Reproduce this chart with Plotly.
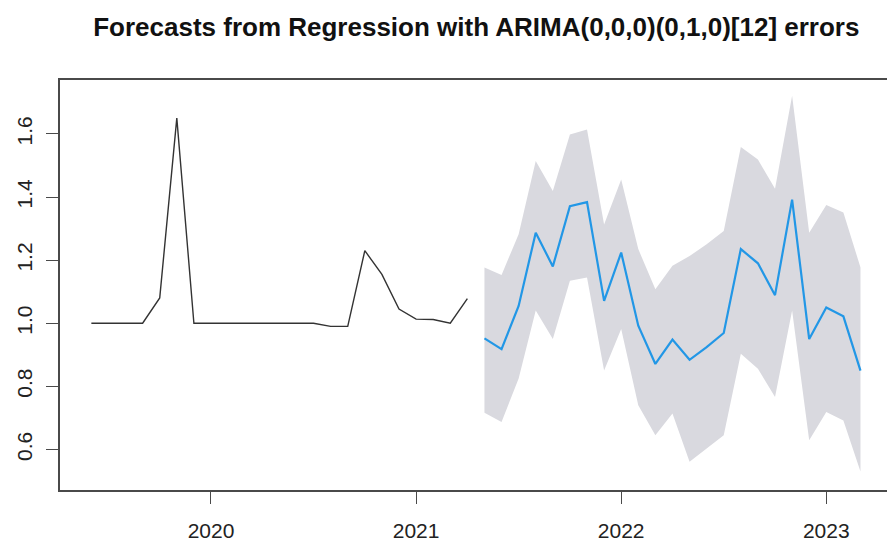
import numpy as np
import plotly.graph_objects as go

# Observed monthly series, June 2019 .. April 2021
obs_start = (2019, 6)
observed = [1.00, 1.00, 1.00, 1.00, 1.08, 1.65, 1.00,
            1.00, 1.00, 1.00, 1.00, 1.00, 1.00, 1.00, 0.99, 0.99, 1.23, 1.155, 1.045,
            1.013, 1.012, 1.00, 1.078]

# Forecast, May 2021 .. March 2023, with 95% interval
fc_start = (2021, 5)
fc_mean = [0.952, 0.918, 1.055, 1.287, 1.180, 1.371, 1.384, 1.071,
           1.224, 0.992, 0.871, 0.948, 0.884, 0.924, 0.969, 1.235, 1.190, 1.089, 1.392, 0.950,
           1.050, 1.022, 0.850]
fc_upper = [1.177, 1.153, 1.282, 1.514, 1.419, 1.598, 1.614, 1.313,
            1.456, 1.235, 1.108, 1.182, 1.213, 1.250, 1.292, 1.559, 1.519, 1.426, 1.721, 1.287,
            1.375, 1.351, 1.177]
fc_lower = [0.716, 0.687, 0.825, 1.040, 0.950, 1.135, 1.145, 0.850,
            0.982, 0.740, 0.645, 0.714, 0.561, 0.603, 0.645, 0.903, 0.856, 0.766, 1.040, 0.629,
            0.719, 0.692, 0.530]

x_ticks = [2020, 2021, 2022, 2023]
y_ticks = [0.6, 0.8, 1.0, 1.2, 1.4, 1.6]
title = "Forecasts from Regression with ARIMA(0,0,0)(0,1,0)[12] errors"


def ts_time(start, n):
    year, month = start
    return year + (month - 1) / 12 + np.arange(n) / 12


t_obs = ts_time(obs_start, len(observed))
t_fc = ts_time(fc_start, len(fc_mean))

FONT = "Liberation Sans, Arial, Helvetica, sans-serif"
AXIS_COL = "#4a4a4a"

fig = go.Figure()

# prediction interval band
fig.add_trace(go.Scatter(
    x=np.concatenate([t_fc, t_fc[::-1]]),
    y=np.concatenate([fc_upper, fc_lower[::-1]]),
    fill="toself", fillcolor="#D9D9DF", line=dict(width=0),
    mode="lines", hoverinfo="skip", showlegend=False))

fig.add_trace(go.Scatter(
    x=t_obs, y=observed, mode="lines",
    line=dict(color="#333333", width=1.4), showlegend=False))

fig.add_trace(go.Scatter(
    x=t_fc, y=fc_mean, mode="lines",
    line=dict(color="#2297E6", width=2.2), showlegend=False))

fig.update_layout(
    width=887, height=542,
    margin=dict(l=60, r=0, t=80, b=50),
    plot_bgcolor="white", paper_bgcolor="white",
    title=dict(text="<b>" + title + "</b>", x=0.537, xanchor="center",
               y=0.95, yanchor="middle",
               font=dict(family=FONT, size=26, color="#111111")),
    font=dict(family=FONT, size=21, color="#222222"),
)

fig.update_xaxes(
    range=[2019.2638, 2023.296], tickvals=x_ticks,
    ticktext=[str(v) for v in x_ticks],
    showgrid=False, zeroline=False,
    showline=True, mirror=True, linecolor=AXIS_COL, linewidth=1.6,
    ticks="outside", ticklen=12, tickwidth=1.4, tickcolor=AXIS_COL,
    ticklabelstandoff=9,
)
fig.update_yaxes(
    range=[0.4714, 1.771], tickvals=y_ticks,
    ticktext=[f"{v:.1f}" for v in y_ticks],
    showgrid=False, zeroline=False,
    showline=True, linecolor=AXIS_COL, linewidth=1.6,
    ticks="outside", ticklen=12, tickwidth=1.4, tickcolor=AXIS_COL,
    tickangle=-90, ticklabelstandoff=6,
)

fig.write_html("out.html")
